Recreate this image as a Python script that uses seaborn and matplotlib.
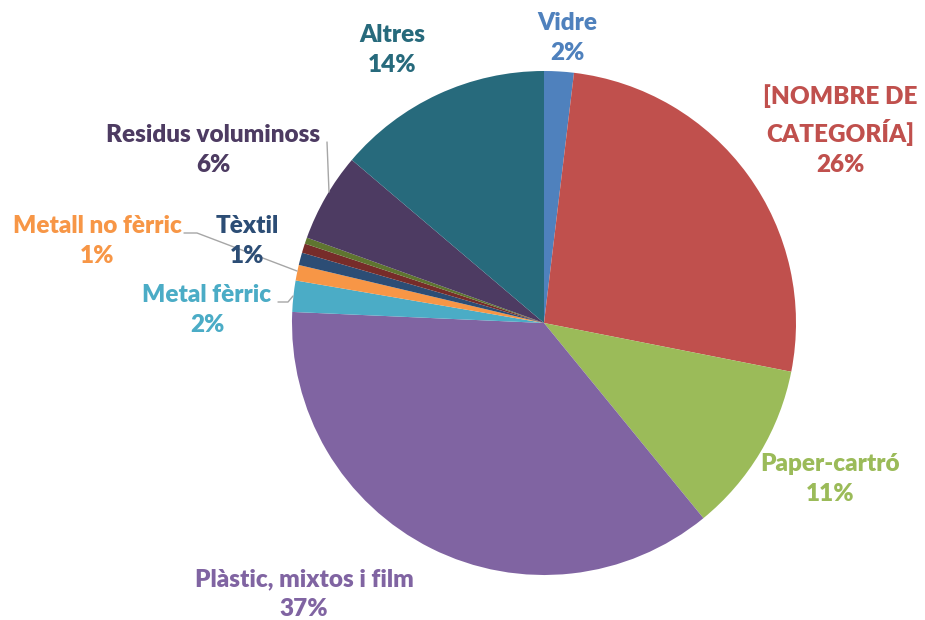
import matplotlib
matplotlib.use("Agg")
import matplotlib.pyplot as plt
import seaborn as sns

# slices, clockwise from 12 o'clock
categories = ["Vidre", "[NOMBRE DE\nCATEGORÍA]", "Paper-cartró", "Plàstic, mixtos i film",
              "Metal fèrric", "Metall no fèrric", "Tèxtil", "Fusta", "Poda",
              "Residus voluminoss", "Altres"]
values = [1.9, 26.2, 11.0, 36.6, 2.0, 1.0, 0.8, 0.6, 0.4, 5.7, 13.8]
show_label = [True, True, True, True, True, True, True, False, False, True, True]
colors = ["#4F81BD", "#C0504D", "#9BBB59", "#8064A2", "#4BACC6", "#F79646",
          "#2C4D75", "#772C2A", "#5F7530", "#4D3B62", "#276A7C"]

# label centres in pixel coords (x, y from top)
label_pos = [(567, 38), (840, 130), (830, 479), (304, 594), (207, 310), (97, 241),
             (247, 241), None, None, (213, 150), (392, 50)]

sns.set_theme(style="white")
plt.rcParams["font.family"] = ["Lato", "DejaVu Sans"]

W, H = 925, 620
fig = plt.figure(figsize=(W / 100, H / 100), dpi=100)
ax = fig.add_axes([0, 0, 1, 1])

cx, cy, r = 544, H - 323, 252
wedges, _ = ax.pie(values, colors=colors, startangle=90, counterclock=False,
                   center=(cx, cy), radius=r, frame=True,
                   wedgeprops=dict(linewidth=0))
ax.set_xlim(0, W)
ax.set_ylim(0, H)
ax.axis("off")

total = sum(values)
for name, v, show, col, pos in zip(categories, values, show_label, colors, label_pos):
    if not show:
        continue
    ax.text(pos[0], H - pos[1], f"{name}\n{round(v / total * 100)}%", color=col,
            ha="center", va="center", fontsize=17.5, fontweight="heavy",
            linespacing=1.45)

# leader lines
lc = "#A6A6A6"
ax.plot([327, 329], [H - 142, H - 192], color=lc, lw=1)
ax.plot([184, 197, 297], [H - 233, H - 233, H - 271], color=lc, lw=1)
ax.plot([278, 288, 293], [H - 302, H - 302, H - 296], color=lc, lw=1)

fig.savefig("out.png", dpi=100, facecolor="white")
